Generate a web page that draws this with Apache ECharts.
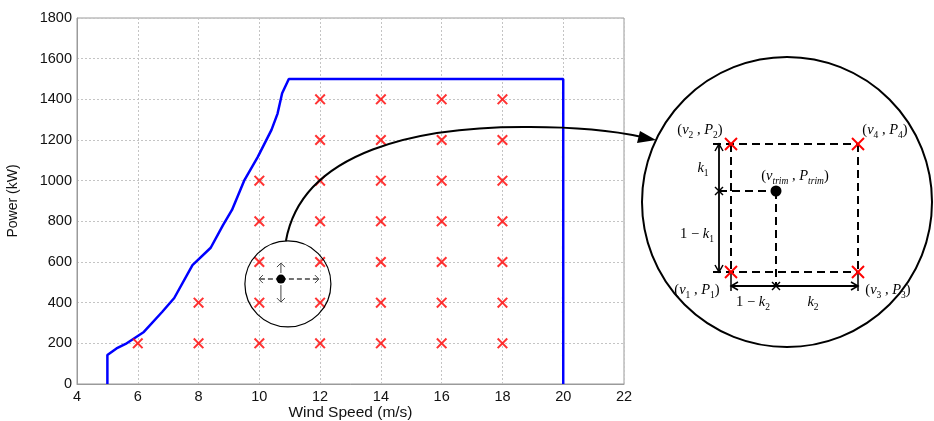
<!DOCTYPE html>
<html>
<head>
<meta charset="utf-8">
<script src="https://cdn.jsdelivr.net/npm/echarts@6/dist/echarts.min.js"></script>
<style>
  html, body { margin: 0; padding: 0; background: #fff; }
  #chart { width: 934px; height: 421px; }
</style>
</head>
<body>
<div id="chart"></div>
<script>
// power curve (wind speed m/s, power kW)
const curveSpeed = [5, 5, 5.3, 5.6, 6.2, 6.8, 7.2, 7.8, 8.4, 8.8, 9.1, 9.5, 9.95, 10.4, 10.6, 10.75, 10.97, 20, 20]
const curvePower = [0, 143, 175, 197, 256, 354, 423, 585, 670, 780, 856, 1000, 1117, 1250, 1330, 1430, 1500, 1500, 0]

// operating points (red crosses)
const gridSpeed = [
  6,
  8, 8,
  10, 10, 10, 10, 10,
  12, 12, 12, 12, 12, 12, 12,
  14, 14, 14, 14, 14, 14, 14,
  16, 16, 16, 16, 16, 16, 16,
  18, 18, 18, 18, 18, 18, 18
]
const gridPower = [
  200,
  200, 400,
  200, 400, 600, 800, 1000,
  200, 400, 600, 800, 1000, 1200, 1400,
  200, 400, 600, 800, 1000, 1200, 1400,
  200, 400, 600, 800, 1000, 1200, 1400,
  200, 400, 600, 800, 1000, 1200, 1400
]

const xTicks = [4, 6, 8, 10, 12, 14, 16, 18, 20, 22]
const yTicks = [0, 200, 400, 600, 800, 1000, 1200, 1400, 1600, 1800]

const CROSS = 'path://M0,1.3L1.3,0L5,3.7L8.7,0L10,1.3L6.3,5L10,8.7L8.7,10L5,6.3L1.3,10L0,8.7L3.7,5Z'

const chart = echarts.init(document.getElementById('chart'))

const sans = 'Liberation Sans, Arial, sans-serif'

chart.setOption({
  animation: false,
  grid: {
    left: 77, right: 310, top: 18, bottom: 37,
    outerBoundsMode: 'none',
    containLabel: false,
    show: true, borderColor: '#9a9a9a', borderWidth: 1
  },
  xAxis: {
    type: 'value',
    min: xTicks[0],
    max: xTicks[xTicks.length - 1],
    interval: 2,
    name: 'Wind Speed (m/s)',
    nameLocation: 'middle',
    nameGap: 21,
    nameMoveOverlap: false,
    nameTextStyle: { color: '#111', fontFamily: sans, fontSize: 15.5 },
    axisLabel: { color: '#111', fontFamily: sans, fontSize: 14.5, margin: 5 },
    axisLine: { lineStyle: { color: '#9a9a9a' } },
    axisTick: { show: false },
    splitLine: { lineStyle: { color: '#c4c4c4', type: [2, 2] } }
  },
  yAxis: {
    type: 'value',
    min: yTicks[0],
    max: yTicks[yTicks.length - 1],
    interval: 200,
    name: 'Power (kW)',
    nameLocation: 'middle',
    nameGap: 57,
    nameTextStyle: { color: '#111', fontFamily: sans, fontSize: 14 },
    axisLabel: { color: '#111', fontFamily: sans, fontSize: 14.5, margin: 5, formatter: (v) => String(v) },
    axisLine: { show: true, lineStyle: { color: '#9a9a9a' } },
    axisTick: { show: false },
    splitLine: { lineStyle: { color: '#c4c4c4', type: [2, 2] } }
  },
  series: [
    {
      type: 'line',
      data: curveSpeed.map((v, i) => [v, curvePower[i]]),
      showSymbol: false,
      lineStyle: { color: '#0000ff', width: 2.5 },
      z: 3
    },
    {
      type: 'scatter',
      data: gridSpeed.map((v, i) => [v, gridPower[i]]),
      symbol: CROSS,
      symbolSize: 11,
      itemStyle: { color: '#ff0000' },
      z: 4
    }
  ]
})

// ---- annotations ----
const px = (x, y) => chart.convertToPixel({ gridIndex: 0 }, [x, y])
const c0 = px(10.94, 492)
const dot = px(10.71, 516)

const serif = 'Liberation Serif, Times New Roman, serif'
const rich = {
  n: { fontFamily: serif, fontSize: 14.5, color: '#111', verticalAlign: 'middle', lineHeight: 20 },
  i: { fontFamily: serif, fontSize: 14.5, fontStyle: 'italic', color: '#111', verticalAlign: 'middle', lineHeight: 20 },
  s: { fontFamily: serif, fontSize: 9.5, color: '#111', verticalAlign: 'bottom', lineHeight: 20, padding: [7, 0, 0, 0] },
  si: { fontFamily: serif, fontSize: 9.5, fontStyle: 'italic', color: '#111', verticalAlign: 'bottom', lineHeight: 20, padding: [7, 0, 0, 0] }
}

function label(x, y, text) {
  return { type: 'text', x, y, style: { text, rich, align: 'center', verticalAlign: 'middle' }, z: 20 }
}
function line(pts, opts) {
  return {
    type: 'polyline',
    shape: { points: pts },
    style: Object.assign({ stroke: '#000', lineWidth: 1.5, fill: null }, opts || {}),
    z: 15
  }
}
function redCross(x, y) {
  return [
    line([[x - 6, y - 6], [x + 6, y + 6]], { stroke: '#ff0000', lineWidth: 2 }),
    line([[x + 6, y - 6], [x - 6, y + 6]], { stroke: '#ff0000', lineWidth: 2 })
  ]
}
function star(x, y) {
  return [
    line([[x - 4, y - 4], [x + 4, y + 4]], { lineWidth: 1.5 }),
    line([[x + 4, y - 4], [x - 4, y + 4]], { lineWidth: 1.5 })
  ]
}

const dash = [8, 5]
const g = []

// small zoom circle on the plot
g.push({ type: 'circle', shape: { cx: c0[0], cy: c0[1], r: 43 }, style: { stroke: '#000', fill: null, lineWidth: 1.2 }, z: 10 })
g.push(line([[dot[0], dot[1]], [dot[0] - 22, dot[1]]], { stroke: '#444', lineWidth: 1.5, lineDash: [5, 3] }))
g.push(line([[dot[0], dot[1]], [dot[0] + 38, dot[1]]], { stroke: '#444', lineWidth: 1.5, lineDash: [5, 3] }))
g.push(line([[dot[0] - 18, dot[1] - 4], [dot[0] - 22, dot[1]], [dot[0] - 18, dot[1] + 4]], { stroke: '#444', lineWidth: 1 }))
g.push(line([[dot[0] + 34, dot[1] - 4], [dot[0] + 38, dot[1]], [dot[0] + 34, dot[1] + 4]], { stroke: '#444', lineWidth: 1 }))
g.push(line([[dot[0], dot[1] - 6], [dot[0], dot[1] - 16]], { stroke: '#444', lineWidth: 1 }))
g.push(line([[dot[0] - 4, dot[1] - 12], [dot[0], dot[1] - 16], [dot[0] + 4, dot[1] - 12]], { stroke: '#444', lineWidth: 1 }))
g.push(line([[dot[0], dot[1] + 6], [dot[0], dot[1] + 23]], { stroke: '#444', lineWidth: 1 }))
g.push(line([[dot[0] - 4, dot[1] + 19], [dot[0], dot[1] + 23], [dot[0] + 4, dot[1] + 19]], { stroke: '#444', lineWidth: 1 }))
g.push({ type: 'circle', shape: { cx: dot[0], cy: dot[1], r: 4.5 }, style: { fill: '#000' }, z: 16 })

// curved arrow to the inset
g.push({
  type: 'bezierCurve',
  shape: { x1: c0[0] - 2, y1: c0[1] - 43, cpx1: 302, cpy1: 150, cpx2: 420, cpy2: 126, x2: 530, y2: 127 },
  style: { stroke: '#000', lineWidth: 2, fill: null }, z: 12
})
g.push({
  type: 'bezierCurve',
  shape: { x1: 530, y1: 127, cpx1: 580, cpy1: 127, cpx2: 615, cpy2: 131, x2: 642, y2: 137 },
  style: { stroke: '#000', lineWidth: 2, fill: null }, z: 12
})
g.push({ type: 'polygon', shape: { points: [[656, 140], [640, 131], [637, 143]] }, style: { fill: '#000' }, z: 12 })

// inset circle
g.push({ type: 'circle', shape: { cx: 787, cy: 202, r: 145 }, style: { stroke: '#000', fill: '#fff', lineWidth: 2 }, z: 11 })

const L = 731, R = 858, T = 144, B = 272
const ax = 719, ay = 191, tx = 776, by = 286
// dashed square
g.push(line([[713, T], [R, T]], { lineDash: dash, lineWidth: 2 }))
g.push(line([[713, B], [R, B]], { lineDash: dash, lineWidth: 2 }))
g.push(line([[L, T], [L, B]], { lineDash: dash, lineWidth: 2 }))
g.push(line([[R, T], [R, B]], { lineDash: dash, lineWidth: 2 }))
// trim point guides
g.push(line([[ax, ay], [tx, ay]], { lineDash: dash, lineWidth: 2 }))
g.push(line([[tx, ay], [tx, by]], { lineDash: dash, lineWidth: 2 }))
// k1 arrow
g.push(line([[ax, T], [ax, B]], { lineWidth: 1.8 }))
g.push(line([[ax - 4, T + 7], [ax, T], [ax + 4, T + 7]], { lineWidth: 1.5 }))
g.push(line([[ax - 4, B - 7], [ax, B], [ax + 4, B - 7]], { lineWidth: 1.5 }))
// k2 arrow
g.push(line([[L, by], [R, by]], { lineWidth: 1.8 }))
g.push(line([[L + 7, by - 4], [L, by], [L + 7, by + 4]], { lineWidth: 1.5 }))
g.push(line([[R - 7, by - 4], [R, by], [R - 7, by + 4]], { lineWidth: 1.5 }))
g.push(line([[L, B], [L, by + 5]], { lineWidth: 1.5 }))
g.push(line([[R, B], [R, by + 5]], { lineWidth: 1.5 }))
g.push(...star(ax, ay), ...star(tx, by))
// red corners
g.push(...redCross(L, T), ...redCross(R, T), ...redCross(L, B), ...redCross(R, B))
g.push({ type: 'circle', shape: { cx: tx, cy: ay, r: 5.5 }, style: { fill: '#000' }, z: 16 })

// inset labels
g.push(label(700, 130, '{n|(}{i|v}{s|2}{n| , }{i|P}{s|2}{n|)}'))
g.push(label(885, 130, '{n|(}{i|v}{s|4}{n| , }{i|P}{s|4}{n|)}'))
g.push(label(697, 290, '{n|(}{i|v}{s|1}{n| , }{i|P}{s|1}{n|)}'))
g.push(label(888, 290, '{n|(}{i|v}{s|3}{n| , }{i|P}{s|3}{n|)}'))
g.push(label(795, 176, '{n|(}{i|v}{si|trim}{n| , }{i|P}{si|trim}{n|)}'))
g.push(label(703, 168, '{i|k}{s|1}'))
g.push(label(697, 234, '{n|1 − }{i|k}{s|1}'))
g.push(label(753, 302, '{n|1 − }{i|k}{s|2}'))
g.push(label(813, 302, '{i|k}{s|2}'))

chart.setOption({ graphic: g })
</script>
</body>
</html>
